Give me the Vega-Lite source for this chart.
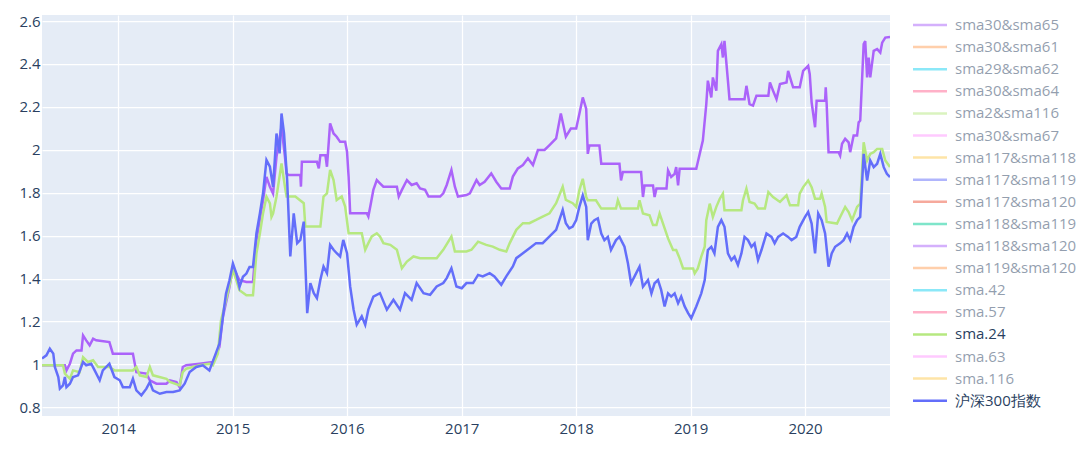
{
  "$schema": "https://vega.github.io/schema/vega-lite/v6.json",
  "autosize": "none",
  "width": 848,
  "height": 401,
  "padding": {"left": 42, "top": 15, "right": 190, "bottom": 40},
  "background": "white",
  "config": {
    "view": {"fill": "#E5ECF6", "stroke": null},
    "font": "Open Sans",
    "axis": {"labelFont": "Open Sans", "labelFontSize": 15, "labelColor": "#2a3f5f", "gridColor": "#ffffff", "gridWidth": 1.25, "domain": false, "ticks": false, "title": null}
  },
  "datasets": {
    "main": [
      {"s":"sma30&sma65","d":"2013-05-03","v":0.996},{"s":"sma30&sma65","d":"2013-07-15","v":0.996},{"s":"sma30&sma65","d":"2013-07-20","v":0.972},{"s":"sma30&sma65","d":"2013-07-31","v":1.003},{"s":"sma30&sma65","d":"2013-08-10","v":1.05},{"s":"sma30&sma65","d":"2013-08-21","v":1.065},{"s":"sma30&sma65","d":"2013-09-06","v":1.065},{"s":"sma30&sma65","d":"2013-09-11","v":1.135},{"s":"sma30&sma65","d":"2013-09-21","v":1.112},{"s":"sma30&sma65","d":"2013-10-02","v":1.089},{"s":"sma30&sma65","d":"2013-10-13","v":1.12},{"s":"sma30&sma65","d":"2013-10-23","v":1.112},{"s":"sma30&sma65","d":"2013-12-04","v":1.104},{"s":"sma30&sma65","d":"2013-12-15","v":1.05},{"s":"sma30&sma65","d":"2014-02-17","v":1.05},{"s":"sma30&sma65","d":"2014-02-28","v":0.964},{"s":"sma30&sma65","d":"2014-04-01","v":0.957},{"s":"sma30&sma65","d":"2014-04-12","v":0.926},{"s":"sma30&sma65","d":"2014-05-03","v":0.91},{"s":"sma30&sma65","d":"2014-06-04","v":0.91},{"s":"sma30&sma65","d":"2014-06-15","v":0.926},{"s":"sma30&sma65","d":"2014-07-06","v":0.918},{"s":"sma30&sma65","d":"2014-07-16","v":0.894},{"s":"sma30&sma65","d":"2014-07-26","v":0.988},{"s":"sma30&sma65","d":"2014-08-06","v":0.996},{"s":"sma30&sma65","d":"2014-09-18","v":1.003},{"s":"sma30&sma65","d":"2014-10-30","v":1.011},{"s":"sma30&sma65","d":"2014-11-20","v":1.081},{"s":"sma30&sma65","d":"2014-12-01","v":1.221},{"s":"sma30&sma65","d":"2014-12-22","v":1.361},{"s":"sma30&sma65","d":"2015-01-02","v":1.454},{"s":"sma30&sma65","d":"2015-01-23","v":1.392},{"s":"sma30&sma65","d":"2015-02-14","v":1.384},{"s":"sma30&sma65","d":"2015-03-07","v":1.384},{"s":"sma30&sma65","d":"2015-03-18","v":1.579},{"s":"sma30&sma65","d":"2015-04-08","v":1.765},{"s":"sma30&sma65","d":"2015-04-19","v":1.874},{"s":"sma30&sma65","d":"2015-04-30","v":1.827},{"s":"sma30&sma65","d":"2015-05-10","v":1.796},{"s":"sma30&sma65","d":"2015-05-21","v":1.967},{"s":"sma30&sma65","d":"2015-06-06","v":2.107},{"s":"sma30&sma65","d":"2015-06-17","v":1.967},{"s":"sma30&sma65","d":"2015-06-22","v":1.889},{"s":"sma30&sma65","d":"2015-06-29","v":1.882},{"s":"sma30&sma65","d":"2015-08-05","v":1.882},{"s":"sma30&sma65","d":"2015-08-07","v":1.828},{"s":"sma30&sma65","d":"2015-08-10","v":1.944},{"s":"sma30&sma65","d":"2015-09-27","v":1.944},{"s":"sma30&sma65","d":"2015-10-03","v":1.913},{"s":"sma30&sma65","d":"2015-10-08","v":1.975},{"s":"sma30&sma65","d":"2015-10-24","v":1.975},{"s":"sma30&sma65","d":"2015-10-29","v":1.921},{"s":"sma30&sma65","d":"2015-11-08","v":2.123},{"s":"sma30&sma65","d":"2015-11-19","v":2.076},{"s":"sma30&sma65","d":"2015-11-29","v":2.061},{"s":"sma30&sma65","d":"2015-12-10","v":2.037},{"s":"sma30&sma65","d":"2015-12-26","v":2.037},{"s":"sma30&sma65","d":"2016-01-01","v":1.991},{"s":"sma30&sma65","d":"2016-01-06","v":1.875},{"s":"sma30&sma65","d":"2016-01-11","v":1.704},{"s":"sma30&sma65","d":"2016-03-04","v":1.704},{"s":"sma30&sma65","d":"2016-03-09","v":1.689},{"s":"sma30&sma65","d":"2016-03-15","v":1.735},{"s":"sma30&sma65","d":"2016-03-25","v":1.813},{"s":"sma30&sma65","d":"2016-04-05","v":1.859},{"s":"sma30&sma65","d":"2016-04-15","v":1.844},{"s":"sma30&sma65","d":"2016-04-26","v":1.828},{"s":"sma30&sma65","d":"2016-06-08","v":1.828},{"s":"sma30&sma65","d":"2016-06-14","v":1.782},{"s":"sma30&sma65","d":"2016-06-24","v":1.813},{"s":"sma30&sma65","d":"2016-07-10","v":1.859},{"s":"sma30&sma65","d":"2016-07-25","v":1.836},{"s":"sma30&sma65","d":"2016-08-10","v":1.844},{"s":"sma30&sma65","d":"2016-08-21","v":1.82},{"s":"sma30&sma65","d":"2016-09-06","v":1.813},{"s":"sma30&sma65","d":"2016-09-17","v":1.782},{"s":"sma30&sma65","d":"2016-10-24","v":1.782},{"s":"sma30&sma65","d":"2016-11-03","v":1.797},{"s":"sma30&sma65","d":"2016-11-14","v":1.836},{"s":"sma30&sma65","d":"2016-11-29","v":1.906},{"s":"sma30&sma65","d":"2016-12-10","v":1.828},{"s":"sma30&sma65","d":"2016-12-20","v":1.782},{"s":"sma30&sma65","d":"2017-01-16","v":1.789},{"s":"sma30&sma65","d":"2017-01-27","v":1.797},{"s":"sma30&sma65","d":"2017-02-17","v":1.859},{"s":"sma30&sma65","d":"2017-02-27","v":1.836},{"s":"sma30&sma65","d":"2017-03-15","v":1.851},{"s":"sma30&sma65","d":"2017-04-05","v":1.89},{"s":"sma30&sma65","d":"2017-04-21","v":1.851},{"s":"sma30&sma65","d":"2017-05-07","v":1.82},{"s":"sma30&sma65","d":"2017-06-03","v":1.82},{"s":"sma30&sma65","d":"2017-06-13","v":1.875},{"s":"sma30&sma65","d":"2017-06-29","v":1.913},{"s":"sma30&sma65","d":"2017-07-15","v":1.929},{"s":"sma30&sma65","d":"2017-07-31","v":1.96},{"s":"sma30&sma65","d":"2017-08-16","v":1.929},{"s":"sma30&sma65","d":"2017-09-01","v":1.999},{"s":"sma30&sma65","d":"2017-09-22","v":1.999},{"s":"sma30&sma65","d":"2017-10-08","v":2.022},{"s":"sma30&sma65","d":"2017-10-29","v":2.053},{"s":"sma30&sma65","d":"2017-11-13","v":2.169},{"s":"sma30&sma65","d":"2017-11-29","v":2.061},{"s":"sma30&sma65","d":"2017-12-15","v":2.099},{"s":"sma30&sma65","d":"2018-01-01","v":2.099},{"s":"sma30&sma65","d":"2018-01-11","v":2.167},{"s":"sma30&sma65","d":"2018-01-22","v":2.244},{"s":"sma30&sma65","d":"2018-02-02","v":2.19},{"s":"sma30&sma65","d":"2018-02-07","v":1.981},{"s":"sma30&sma65","d":"2018-02-12","v":2.02},{"s":"sma30&sma65","d":"2018-03-16","v":2.02},{"s":"sma30&sma65","d":"2018-03-22","v":1.935},{"s":"sma30&sma65","d":"2018-05-19","v":1.935},{"s":"sma30&sma65","d":"2018-05-24","v":1.857},{"s":"sma30&sma65","d":"2018-05-30","v":1.896},{"s":"sma30&sma65","d":"2018-07-27","v":1.896},{"s":"sma30&sma65","d":"2018-08-02","v":1.78},{"s":"sma30&sma65","d":"2018-08-07","v":1.834},{"s":"sma30&sma65","d":"2018-09-03","v":1.834},{"s":"sma30&sma65","d":"2018-09-08","v":1.78},{"s":"sma30&sma65","d":"2018-09-14","v":1.819},{"s":"sma30&sma65","d":"2018-10-16","v":1.819},{"s":"sma30&sma65","d":"2018-10-21","v":1.904},{"s":"sma30&sma65","d":"2018-10-31","v":1.873},{"s":"sma30&sma65","d":"2018-11-11","v":1.888},{"s":"sma30&sma65","d":"2018-11-16","v":1.919},{"s":"sma30&sma65","d":"2018-11-22","v":1.834},{"s":"sma30&sma65","d":"2018-11-27","v":1.912},{"s":"sma30&sma65","d":"2019-01-19","v":1.912},{"s":"sma30&sma65","d":"2019-01-24","v":1.943},{"s":"sma30&sma65","d":"2019-01-30","v":1.981},{"s":"sma30&sma65","d":"2019-02-09","v":2.043},{"s":"sma30&sma65","d":"2019-02-20","v":2.213},{"s":"sma30&sma65","d":"2019-02-25","v":2.322},{"s":"sma30&sma65","d":"2019-03-08","v":2.244},{"s":"sma30&sma65","d":"2019-03-13","v":2.337},{"s":"sma30&sma65","d":"2019-03-24","v":2.275},{"s":"sma30&sma65","d":"2019-03-29","v":2.461},{"s":"sma30&sma65","d":"2019-04-09","v":2.492},{"s":"sma30&sma65","d":"2019-04-14","v":2.43},{"s":"sma30&sma65","d":"2019-04-19","v":2.507},{"s":"sma30&sma65","d":"2019-04-30","v":2.322},{"s":"sma30&sma65","d":"2019-05-05","v":2.236},{"s":"sma30&sma65","d":"2019-06-22","v":2.236},{"s":"sma30&sma65","d":"2019-06-28","v":2.298},{"s":"sma30&sma65","d":"2019-07-08","v":2.213},{"s":"sma30&sma65","d":"2019-07-19","v":2.206},{"s":"sma30&sma65","d":"2019-07-30","v":2.252},{"s":"sma30&sma65","d":"2019-09-06","v":2.252},{"s":"sma30&sma65","d":"2019-09-11","v":2.314},{"s":"sma30&sma65","d":"2019-09-21","v":2.275},{"s":"sma30&sma65","d":"2019-10-02","v":2.236},{"s":"sma30&sma65","d":"2019-10-13","v":2.306},{"s":"sma30&sma65","d":"2019-11-03","v":2.314},{"s":"sma30&sma65","d":"2019-11-08","v":2.368},{"s":"sma30&sma65","d":"2019-11-19","v":2.314},{"s":"sma30&sma65","d":"2019-11-24","v":2.291},{"s":"sma30&sma65","d":"2019-12-15","v":2.291},{"s":"sma30&sma65","d":"2019-12-26","v":2.368},{"s":"sma30&sma65","d":"2020-01-11","v":2.391},{"s":"sma30&sma65","d":"2020-01-16","v":2.352},{"s":"sma30&sma65","d":"2020-01-22","v":2.221},{"s":"sma30&sma65","d":"2020-02-02","v":2.105},{"s":"sma30&sma65","d":"2020-02-07","v":2.229},{"s":"sma30&sma65","d":"2020-03-05","v":2.229},{"s":"sma30&sma65","d":"2020-03-07","v":2.291},{"s":"sma30&sma65","d":"2020-03-10","v":2.213},{"s":"sma30&sma65","d":"2020-03-16","v":1.989},{"s":"sma30&sma65","d":"2020-04-17","v":1.989},{"s":"sma30&sma65","d":"2020-04-22","v":1.973},{"s":"sma30&sma65","d":"2020-04-28","v":2.028},{"s":"sma30&sma65","d":"2020-05-08","v":2.051},{"s":"sma30&sma65","d":"2020-05-19","v":2.035},{"s":"sma30&sma65","d":"2020-05-24","v":1.989},{"s":"sma30&sma65","d":"2020-06-04","v":2.066},{"s":"sma30&sma65","d":"2020-06-15","v":2.066},{"s":"sma30&sma65","d":"2020-06-20","v":2.128},{"s":"sma30&sma65","d":"2020-06-25","v":2.136},{"s":"sma30&sma65","d":"2020-07-06","v":2.492},{"s":"sma30&sma65","d":"2020-07-11","v":2.507},{"s":"sma30&sma65","d":"2020-07-17","v":2.337},{"s":"sma30&sma65","d":"2020-07-22","v":2.43},{"s":"sma30&sma65","d":"2020-07-27","v":2.337},{"s":"sma30&sma65","d":"2020-08-07","v":2.461},{"s":"sma30&sma65","d":"2020-08-18","v":2.469},{"s":"sma30&sma65","d":"2020-08-28","v":2.453},{"s":"sma30&sma65","d":"2020-09-03","v":2.499},{"s":"sma30&sma65","d":"2020-09-13","v":2.523},{"s":"sma30&sma65","d":"2020-09-28","v":2.526},

      {"s":"sma.24","d":"2013-05-03","v":0.996},{"s":"sma.24","d":"2013-07-09","v":0.996},{"s":"sma.24","d":"2013-07-15","v":0.957},{"s":"sma.24","d":"2013-07-31","v":0.933},{"s":"sma.24","d":"2013-08-10","v":0.972},{"s":"sma.24","d":"2013-08-31","v":0.964},{"s":"sma.24","d":"2013-09-11","v":1.034},{"s":"sma.24","d":"2013-09-27","v":1.011},{"s":"sma.24","d":"2013-10-13","v":1.019},{"s":"sma.24","d":"2013-10-29","v":0.988},{"s":"sma.24","d":"2013-12-04","v":0.988},{"s":"sma.24","d":"2013-12-20","v":0.972},{"s":"sma.24","d":"2014-02-17","v":0.972},{"s":"sma.24","d":"2014-02-28","v":0.988},{"s":"sma.24","d":"2014-03-11","v":0.949},{"s":"sma.24","d":"2014-04-01","v":0.941},{"s":"sma.24","d":"2014-04-12","v":0.988},{"s":"sma.24","d":"2014-04-22","v":0.949},{"s":"sma.24","d":"2014-06-04","v":0.933},{"s":"sma.24","d":"2014-06-15","v":0.918},{"s":"sma.24","d":"2014-07-16","v":0.902},{"s":"sma.24","d":"2014-07-26","v":0.964},{"s":"sma.24","d":"2014-08-06","v":0.98},{"s":"sma.24","d":"2014-08-27","v":0.988},{"s":"sma.24","d":"2014-09-18","v":0.996},{"s":"sma.24","d":"2014-10-19","v":1.003},{"s":"sma.24","d":"2014-10-30","v":0.996},{"s":"sma.24","d":"2014-11-15","v":1.05},{"s":"sma.24","d":"2014-11-25","v":1.205},{"s":"sma.24","d":"2014-12-11","v":1.299},{"s":"sma.24","d":"2015-01-02","v":1.439},{"s":"sma.24","d":"2015-01-13","v":1.392},{"s":"sma.24","d":"2015-01-23","v":1.345},{"s":"sma.24","d":"2015-02-14","v":1.322},{"s":"sma.24","d":"2015-03-07","v":1.322},{"s":"sma.24","d":"2015-03-18","v":1.516},{"s":"sma.24","d":"2015-03-29","v":1.61},{"s":"sma.24","d":"2015-04-08","v":1.703},{"s":"sma.24","d":"2015-04-19","v":1.781},{"s":"sma.24","d":"2015-04-30","v":1.75},{"s":"sma.24","d":"2015-05-05","v":1.687},{"s":"sma.24","d":"2015-05-10","v":1.703},{"s":"sma.24","d":"2015-05-21","v":1.781},{"s":"sma.24","d":"2015-06-06","v":1.936},{"s":"sma.24","d":"2015-06-17","v":1.827},{"s":"sma.24","d":"2015-06-22","v":1.782},{"s":"sma.24","d":"2015-07-20","v":1.782},{"s":"sma.24","d":"2015-08-16","v":1.751},{"s":"sma.24","d":"2015-08-21","v":1.642},{"s":"sma.24","d":"2015-10-08","v":1.642},{"s":"sma.24","d":"2015-10-18","v":1.782},{"s":"sma.24","d":"2015-10-29","v":1.797},{"s":"sma.24","d":"2015-11-08","v":1.906},{"s":"sma.24","d":"2015-11-19","v":1.859},{"s":"sma.24","d":"2015-11-29","v":1.766},{"s":"sma.24","d":"2015-12-15","v":1.782},{"s":"sma.24","d":"2015-12-26","v":1.735},{"s":"sma.24","d":"2016-01-06","v":1.611},{"s":"sma.24","d":"2016-02-17","v":1.611},{"s":"sma.24","d":"2016-02-28","v":1.534},{"s":"sma.24","d":"2016-03-09","v":1.565},{"s":"sma.24","d":"2016-03-20","v":1.596},{"s":"sma.24","d":"2016-04-05","v":1.611},{"s":"sma.24","d":"2016-04-15","v":1.596},{"s":"sma.24","d":"2016-04-26","v":1.565},{"s":"sma.24","d":"2016-05-18","v":1.557},{"s":"sma.24","d":"2016-06-08","v":1.534},{"s":"sma.24","d":"2016-06-24","v":1.448},{"s":"sma.24","d":"2016-07-10","v":1.479},{"s":"sma.24","d":"2016-07-31","v":1.503},{"s":"sma.24","d":"2016-08-21","v":1.495},{"s":"sma.24","d":"2016-10-13","v":1.495},{"s":"sma.24","d":"2016-11-03","v":1.534},{"s":"sma.24","d":"2016-11-29","v":1.596},{"s":"sma.24","d":"2016-12-10","v":1.526},{"s":"sma.24","d":"2017-01-16","v":1.526},{"s":"sma.24","d":"2017-02-01","v":1.534},{"s":"sma.24","d":"2017-02-22","v":1.572},{"s":"sma.24","d":"2017-03-20","v":1.557},{"s":"sma.24","d":"2017-04-10","v":1.549},{"s":"sma.24","d":"2017-05-02","v":1.534},{"s":"sma.24","d":"2017-05-23","v":1.526},{"s":"sma.24","d":"2017-06-03","v":1.565},{"s":"sma.24","d":"2017-06-24","v":1.627},{"s":"sma.24","d":"2017-07-15","v":1.658},{"s":"sma.24","d":"2017-08-05","v":1.658},{"s":"sma.24","d":"2017-08-26","v":1.673},{"s":"sma.24","d":"2017-09-16","v":1.689},{"s":"sma.24","d":"2017-10-08","v":1.704},{"s":"sma.24","d":"2017-10-29","v":1.751},{"s":"sma.24","d":"2017-11-19","v":1.828},{"s":"sma.24","d":"2017-11-29","v":1.766},{"s":"sma.24","d":"2017-12-21","v":1.751},{"s":"sma.24","d":"2018-01-01","v":1.734},{"s":"sma.24","d":"2018-01-11","v":1.811},{"s":"sma.24","d":"2018-01-22","v":1.865},{"s":"sma.24","d":"2018-02-02","v":1.78},{"s":"sma.24","d":"2018-02-07","v":1.765},{"s":"sma.24","d":"2018-03-05","v":1.765},{"s":"sma.24","d":"2018-03-22","v":1.726},{"s":"sma.24","d":"2018-05-08","v":1.726},{"s":"sma.24","d":"2018-05-14","v":1.765},{"s":"sma.24","d":"2018-05-24","v":1.726},{"s":"sma.24","d":"2018-07-17","v":1.726},{"s":"sma.24","d":"2018-07-22","v":1.765},{"s":"sma.24","d":"2018-08-02","v":1.703},{"s":"sma.24","d":"2018-08-23","v":1.695},{"s":"sma.24","d":"2018-09-03","v":1.649},{"s":"sma.24","d":"2018-09-14","v":1.649},{"s":"sma.24","d":"2018-09-24","v":1.703},{"s":"sma.24","d":"2018-10-05","v":1.656},{"s":"sma.24","d":"2018-10-21","v":1.587},{"s":"sma.24","d":"2018-11-06","v":1.533},{"s":"sma.24","d":"2018-11-16","v":1.533},{"s":"sma.24","d":"2018-11-27","v":1.494},{"s":"sma.24","d":"2018-12-08","v":1.447},{"s":"sma.24","d":"2019-01-09","v":1.447},{"s":"sma.24","d":"2019-01-14","v":1.424},{"s":"sma.24","d":"2019-01-24","v":1.447},{"s":"sma.24","d":"2019-02-04","v":1.502},{"s":"sma.24","d":"2019-02-15","v":1.548},{"s":"sma.24","d":"2019-02-20","v":1.672},{"s":"sma.24","d":"2019-03-03","v":1.749},{"s":"sma.24","d":"2019-03-13","v":1.687},{"s":"sma.24","d":"2019-03-24","v":1.734},{"s":"sma.24","d":"2019-04-04","v":1.772},{"s":"sma.24","d":"2019-04-14","v":1.796},{"s":"sma.24","d":"2019-04-19","v":1.718},{"s":"sma.24","d":"2019-06-12","v":1.718},{"s":"sma.24","d":"2019-06-17","v":1.765},{"s":"sma.24","d":"2019-06-28","v":1.819},{"s":"sma.24","d":"2019-07-08","v":1.757},{"s":"sma.24","d":"2019-07-24","v":1.749},{"s":"sma.24","d":"2019-08-04","v":1.726},{"s":"sma.24","d":"2019-08-26","v":1.726},{"s":"sma.24","d":"2019-09-06","v":1.803},{"s":"sma.24","d":"2019-09-21","v":1.78},{"s":"sma.24","d":"2019-10-13","v":1.757},{"s":"sma.24","d":"2019-11-03","v":1.788},{"s":"sma.24","d":"2019-11-14","v":1.741},{"s":"sma.24","d":"2019-12-10","v":1.741},{"s":"sma.24","d":"2019-12-15","v":1.796},{"s":"sma.24","d":"2019-12-26","v":1.826},{"s":"sma.24","d":"2020-01-11","v":1.857},{"s":"sma.24","d":"2020-01-22","v":1.826},{"s":"sma.24","d":"2020-02-02","v":1.772},{"s":"sma.24","d":"2020-02-18","v":1.772},{"s":"sma.24","d":"2020-02-23","v":1.796},{"s":"sma.24","d":"2020-03-05","v":1.734},{"s":"sma.24","d":"2020-03-10","v":1.664},{"s":"sma.24","d":"2020-04-12","v":1.656},{"s":"sma.24","d":"2020-04-22","v":1.687},{"s":"sma.24","d":"2020-05-08","v":1.734},{"s":"sma.24","d":"2020-05-19","v":1.71},{"s":"sma.24","d":"2020-05-30","v":1.672},{"s":"sma.24","d":"2020-06-15","v":1.734},{"s":"sma.24","d":"2020-06-25","v":1.749},{"s":"sma.24","d":"2020-07-06","v":2.035},{"s":"sma.24","d":"2020-07-17","v":1.95},{"s":"sma.24","d":"2020-07-27","v":1.981},{"s":"sma.24","d":"2020-08-07","v":1.989},{"s":"sma.24","d":"2020-08-18","v":2.004},{"s":"sma.24","d":"2020-09-03","v":2.004},{"s":"sma.24","d":"2020-09-13","v":1.95},{"s":"sma.24","d":"2020-09-28","v":1.92},

      {"s":"沪深300指数","d":"2013-05-03","v":1.027},{"s":"沪深300指数","d":"2013-05-17","v":1.042},{"s":"沪深300指数","d":"2013-05-28","v":1.073},{"s":"沪深300指数","d":"2013-06-08","v":1.05},{"s":"沪深300指数","d":"2013-06-13","v":0.988},{"s":"沪深300指数","d":"2013-06-24","v":0.941},{"s":"沪深300指数","d":"2013-06-29","v":0.887},{"s":"沪深300指数","d":"2013-07-09","v":0.902},{"s":"沪深300指数","d":"2013-07-15","v":0.941},{"s":"沪深300指数","d":"2013-07-20","v":0.894},{"s":"沪深300指数","d":"2013-07-31","v":0.91},{"s":"沪深300指数","d":"2013-08-10","v":0.941},{"s":"沪深300指数","d":"2013-08-26","v":0.949},{"s":"沪深300指数","d":"2013-09-11","v":1.011},{"s":"沪深300指数","d":"2013-09-21","v":0.996},{"s":"沪深300指数","d":"2013-10-07","v":1.003},{"s":"沪深300指数","d":"2013-10-18","v":0.972},{"s":"沪深300指数","d":"2013-11-03","v":0.926},{"s":"沪深300指数","d":"2013-11-13","v":0.972},{"s":"沪深300指数","d":"2013-11-24","v":0.988},{"s":"沪深300指数","d":"2013-12-04","v":1.003},{"s":"沪深300指数","d":"2013-12-20","v":0.941},{"s":"沪深300指数","d":"2014-01-06","v":0.926},{"s":"沪深300指数","d":"2014-01-16","v":0.894},{"s":"沪深300指数","d":"2014-02-07","v":0.894},{"s":"沪深300指数","d":"2014-02-17","v":0.933},{"s":"沪深300指数","d":"2014-02-28","v":0.879},{"s":"沪深300指数","d":"2014-03-16","v":0.856},{"s":"沪深300指数","d":"2014-04-01","v":0.887},{"s":"沪深300指数","d":"2014-04-12","v":0.918},{"s":"沪深300指数","d":"2014-04-22","v":0.879},{"s":"沪深300指数","d":"2014-05-14","v":0.863},{"s":"沪深300指数","d":"2014-06-04","v":0.871},{"s":"沪深300指数","d":"2014-06-25","v":0.871},{"s":"沪深300指数","d":"2014-07-16","v":0.879},{"s":"沪深300指数","d":"2014-08-01","v":0.91},{"s":"沪深300指数","d":"2014-08-17","v":0.964},{"s":"沪深300指数","d":"2014-09-07","v":0.988},{"s":"沪深300指数","d":"2014-09-28","v":0.996},{"s":"沪深300指数","d":"2014-10-19","v":0.972},{"s":"沪深300指数","d":"2014-11-04","v":1.034},{"s":"沪深300指数","d":"2014-11-20","v":1.097},{"s":"沪深300指数","d":"2014-12-01","v":1.221},{"s":"沪深300指数","d":"2014-12-11","v":1.33},{"s":"沪深300指数","d":"2014-12-22","v":1.392},{"s":"沪深300指数","d":"2015-01-02","v":1.47},{"s":"沪深300指数","d":"2015-01-13","v":1.423},{"s":"沪深300指数","d":"2015-01-23","v":1.361},{"s":"沪深300指数","d":"2015-02-03","v":1.408},{"s":"沪深300指数","d":"2015-02-14","v":1.423},{"s":"沪深300指数","d":"2015-02-24","v":1.454},{"s":"沪深300指数","d":"2015-03-07","v":1.454},{"s":"沪深300指数","d":"2015-03-18","v":1.61},{"s":"沪深300指数","d":"2015-03-29","v":1.703},{"s":"沪深300指数","d":"2015-04-08","v":1.796},{"s":"沪深300指数","d":"2015-04-19","v":1.952},{"s":"沪深300指数","d":"2015-04-30","v":1.921},{"s":"沪深300指数","d":"2015-05-10","v":1.827},{"s":"沪深300指数","d":"2015-05-21","v":2.076},{"s":"沪深300指数","d":"2015-05-31","v":1.983},{"s":"沪深300指数","d":"2015-06-06","v":2.169},{"s":"沪深300指数","d":"2015-06-14","v":2.076},{"s":"沪深300指数","d":"2015-06-24","v":1.859},{"s":"沪深300指数","d":"2015-07-04","v":1.503},{"s":"沪深300指数","d":"2015-07-15","v":1.704},{"s":"沪深300指数","d":"2015-07-26","v":1.565},{"s":"沪深300指数","d":"2015-08-05","v":1.58},{"s":"沪深300指数","d":"2015-08-16","v":1.665},{"s":"沪深300指数","d":"2015-08-27","v":1.239},{"s":"沪深300指数","d":"2015-09-06","v":1.379},{"s":"沪深300指数","d":"2015-09-17","v":1.332},{"s":"沪深300指数","d":"2015-09-27","v":1.309},{"s":"沪深300指数","d":"2015-10-08","v":1.394},{"s":"沪深300指数","d":"2015-10-18","v":1.456},{"s":"沪深300指数","d":"2015-10-29","v":1.425},{"s":"沪深300指数","d":"2015-11-08","v":1.557},{"s":"沪深300指数","d":"2015-11-19","v":1.534},{"s":"沪深300指数","d":"2015-11-29","v":1.518},{"s":"沪深300指数","d":"2015-12-10","v":1.503},{"s":"沪深300指数","d":"2015-12-20","v":1.58},{"s":"沪深300指数","d":"2016-01-01","v":1.518},{"s":"沪深300指数","d":"2016-01-11","v":1.363},{"s":"沪深300指数","d":"2016-01-22","v":1.255},{"s":"沪深300指数","d":"2016-02-01","v":1.185},{"s":"沪深300指数","d":"2016-02-17","v":1.224},{"s":"沪深300指数","d":"2016-02-28","v":1.185},{"s":"沪深300指数","d":"2016-03-09","v":1.255},{"s":"沪深300指数","d":"2016-03-25","v":1.316},{"s":"沪深300指数","d":"2016-04-15","v":1.332},{"s":"沪深300指数","d":"2016-05-07","v":1.255},{"s":"沪深300指数","d":"2016-05-28","v":1.301},{"s":"沪深300指数","d":"2016-06-18","v":1.255},{"s":"沪深300指数","d":"2016-07-04","v":1.332},{"s":"沪深300指数","d":"2016-07-25","v":1.301},{"s":"沪深300指数","d":"2016-08-10","v":1.379},{"s":"沪深300指数","d":"2016-09-01","v":1.332},{"s":"沪深300指数","d":"2016-09-22","v":1.324},{"s":"沪深300指数","d":"2016-10-13","v":1.363},{"s":"沪深300指数","d":"2016-11-03","v":1.379},{"s":"沪深300指数","d":"2016-11-14","v":1.402},{"s":"沪深300指数","d":"2016-11-29","v":1.448},{"s":"沪深300指数","d":"2016-12-15","v":1.363},{"s":"沪深300指数","d":"2017-01-01","v":1.355},{"s":"沪深300指数","d":"2017-01-16","v":1.379},{"s":"沪深300指数","d":"2017-02-06","v":1.379},{"s":"沪深300指数","d":"2017-02-22","v":1.417},{"s":"沪深300指数","d":"2017-03-09","v":1.41},{"s":"沪深300指数","d":"2017-03-31","v":1.425},{"s":"沪深300指数","d":"2017-04-15","v":1.41},{"s":"沪深300指数","d":"2017-05-07","v":1.371},{"s":"沪深300指数","d":"2017-05-23","v":1.41},{"s":"沪深300指数","d":"2017-06-13","v":1.456},{"s":"沪深300指数","d":"2017-06-24","v":1.495},{"s":"沪深300指数","d":"2017-07-15","v":1.518},{"s":"沪深300指数","d":"2017-08-05","v":1.541},{"s":"沪深300指数","d":"2017-08-26","v":1.565},{"s":"沪深300指数","d":"2017-09-16","v":1.565},{"s":"沪深300指数","d":"2017-10-08","v":1.596},{"s":"沪深300指数","d":"2017-10-29","v":1.627},{"s":"沪深300指数","d":"2017-11-19","v":1.72},{"s":"沪深300指数","d":"2017-11-29","v":1.658},{"s":"沪深300指数","d":"2017-12-10","v":1.634},{"s":"沪深300指数","d":"2017-12-21","v":1.642},{"s":"沪深300指数","d":"2018-01-01","v":1.672},{"s":"沪深300指数","d":"2018-01-11","v":1.734},{"s":"沪深300指数","d":"2018-01-22","v":1.788},{"s":"沪深300指数","d":"2018-02-02","v":1.734},{"s":"沪深300指数","d":"2018-02-07","v":1.579},{"s":"沪深300指数","d":"2018-02-18","v":1.656},{"s":"沪深300指数","d":"2018-02-28","v":1.672},{"s":"沪深300指数","d":"2018-03-11","v":1.68},{"s":"沪深300指数","d":"2018-03-22","v":1.61},{"s":"沪深300指数","d":"2018-04-01","v":1.579},{"s":"沪深300指数","d":"2018-04-12","v":1.594},{"s":"沪深300指数","d":"2018-04-22","v":1.533},{"s":"沪深300指数","d":"2018-05-08","v":1.579},{"s":"沪深300指数","d":"2018-05-19","v":1.594},{"s":"沪深300指数","d":"2018-06-04","v":1.548},{"s":"沪深300指数","d":"2018-06-15","v":1.471},{"s":"沪深300指数","d":"2018-06-25","v":1.378},{"s":"沪深300指数","d":"2018-07-11","v":1.424},{"s":"沪深300指数","d":"2018-07-22","v":1.455},{"s":"沪深300指数","d":"2018-08-02","v":1.362},{"s":"沪深300指数","d":"2018-08-18","v":1.393},{"s":"沪深300指数","d":"2018-08-29","v":1.331},{"s":"沪深300指数","d":"2018-09-08","v":1.378},{"s":"沪深300指数","d":"2018-09-19","v":1.393},{"s":"沪深300指数","d":"2018-09-29","v":1.347},{"s":"沪深300指数","d":"2018-10-10","v":1.27},{"s":"沪深300指数","d":"2018-10-21","v":1.331},{"s":"沪深300指数","d":"2018-10-31","v":1.316},{"s":"沪深300指数","d":"2018-11-11","v":1.331},{"s":"沪深300指数","d":"2018-11-22","v":1.285},{"s":"沪深300指数","d":"2018-12-02","v":1.316},{"s":"沪深300指数","d":"2018-12-13","v":1.27},{"s":"沪深300指数","d":"2018-12-24","v":1.239},{"s":"沪深300指数","d":"2019-01-03","v":1.215},{"s":"沪深300指数","d":"2019-01-19","v":1.27},{"s":"沪深300指数","d":"2019-02-04","v":1.331},{"s":"沪深300指数","d":"2019-02-15","v":1.393},{"s":"沪深300指数","d":"2019-02-25","v":1.533},{"s":"沪深300指数","d":"2019-03-08","v":1.548},{"s":"沪深300指数","d":"2019-03-18","v":1.517},{"s":"沪深300指数","d":"2019-03-29","v":1.641},{"s":"沪深300指数","d":"2019-04-09","v":1.672},{"s":"沪深300指数","d":"2019-04-19","v":1.641},{"s":"沪深300指数","d":"2019-04-30","v":1.517},{"s":"沪深300指数","d":"2019-05-11","v":1.486},{"s":"沪深300指数","d":"2019-05-21","v":1.502},{"s":"沪深300指数","d":"2019-06-01","v":1.463},{"s":"沪深300指数","d":"2019-06-12","v":1.517},{"s":"沪深300指数","d":"2019-06-22","v":1.594},{"s":"沪深300指数","d":"2019-07-03","v":1.579},{"s":"沪深300指数","d":"2019-07-14","v":1.548},{"s":"沪深300指数","d":"2019-07-24","v":1.564},{"s":"沪深300指数","d":"2019-08-04","v":1.486},{"s":"沪深300指数","d":"2019-08-15","v":1.533},{"s":"沪深300指数","d":"2019-08-31","v":1.61},{"s":"沪深300指数","d":"2019-09-16","v":1.594},{"s":"沪深300指数","d":"2019-09-26","v":1.564},{"s":"沪深300指数","d":"2019-10-07","v":1.594},{"s":"沪深300指数","d":"2019-10-23","v":1.61},{"s":"沪深300指数","d":"2019-11-08","v":1.594},{"s":"沪深300指数","d":"2019-11-19","v":1.579},{"s":"沪深300指数","d":"2019-12-04","v":1.594},{"s":"沪深300指数","d":"2019-12-15","v":1.641},{"s":"沪深300指数","d":"2020-01-01","v":1.687},{"s":"沪深300指数","d":"2020-01-11","v":1.71},{"s":"沪深300指数","d":"2020-01-22","v":1.656},{"s":"沪深300指数","d":"2020-02-02","v":1.517},{"s":"沪深300指数","d":"2020-02-12","v":1.703},{"s":"沪深300指数","d":"2020-02-23","v":1.672},{"s":"沪深300指数","d":"2020-03-05","v":1.61},{"s":"沪深300指数","d":"2020-03-16","v":1.455},{"s":"沪深300指数","d":"2020-03-26","v":1.517},{"s":"沪深300指数","d":"2020-04-06","v":1.548},{"s":"沪深300指数","d":"2020-04-22","v":1.564},{"s":"沪深300指数","d":"2020-05-03","v":1.579},{"s":"沪深300指数","d":"2020-05-14","v":1.61},{"s":"沪深300指数","d":"2020-05-24","v":1.579},{"s":"沪深300指数","d":"2020-06-04","v":1.641},{"s":"沪深300指数","d":"2020-06-15","v":1.672},{"s":"沪深300指数","d":"2020-06-25","v":1.687},{"s":"沪深300指数","d":"2020-07-06","v":1.981},{"s":"沪深300指数","d":"2020-07-17","v":1.857},{"s":"沪深300指数","d":"2020-07-27","v":1.95},{"s":"沪深300指数","d":"2020-08-07","v":1.919},{"s":"沪深300指数","d":"2020-08-18","v":1.935},{"s":"沪深300指数","d":"2020-08-28","v":1.981},{"s":"沪深300指数","d":"2020-09-08","v":1.919},{"s":"沪深300指数","d":"2020-09-18","v":1.888},{"s":"沪深300指数","d":"2020-09-28","v":1.873}
    ]
  },
  "data": {"name": "main", "format": {"parse": {"d": "utc:'%Y-%m-%d'"}}},
  "encoding": {
    "x": {"field": "d", "type": "temporal", "scale": {"type": "utc", "domain": [{"year": 2013, "month": 5, "date": 3, "utc": true}, {"year": 2020, "month": 9, "date": 28, "utc": true}]}, "axis": {"format": "%Y", "formatType": "utc", "tickCount": {"interval": "year", "step": 1}, "labelPadding": 5, "grid": true}},
    "y": {"field": "v", "type": "quantitative", "scale": {"domain": [0.7595, 2.628], "nice": false, "zero": false}, "axis": {"values": [0.8, 1, 1.2, 1.4, 1.6, 1.8, 2, 2.2, 2.4, 2.6], "format": "~f", "labelPadding": 2, "grid": true}},
    "color": {"field": "s", "type": "nominal",
      "scale": {"domain": ["sma30&sma65","sma30&sma61","sma29&sma62","sma30&sma64","sma2&sma116","sma30&sma67","sma117&sma118","sma117&sma119","sma117&sma120","sma118&sma119","sma118&sma120","sma119&sma120","sma.42","sma.57","sma.24","sma.63","sma.116","沪深300指数"],
        "range": ["#AB63FA","#FFA15A","#19D3F3","#FF6692","#B6E880","#FF97FF","#FECB52","#636EFA","#EF553B","#00CC96","#AB63FA","#FFA15A","#19D3F3","#FF6692","#B6E880","#FF97FF","#FECB52","#636EFA"]},
      "legend": {"title": null, "orient": "none", "legendX": 878, "legendY": 0, "padding": 0, "symbolType": "M-2,0H2", "symbolSize": 289, "symbolStrokeWidth": 2.5, "labelFont": "Open Sans", "labelFontSize": 15, "labelColor": "#2a3f5f", "labelLimit": 300, "labelOffset": 15, "rowPadding": 4.1,
        "encode": {
          "symbols": {"update": {"opacity": {"signal": "datum.value === 'sma.24' || datum.value === '沪深300指数' ? 1 : 0.5"}}},
          "labels": {"update": {"opacity": {"signal": "datum.value === 'sma.24' || datum.value === '沪深300指数' ? 1 : 0.5"}}}
        }}}
  },
  "layer": [
    {"transform": [{"filter": "datum.s === 'sma30&sma65'"}], "mark": {"type": "line", "strokeWidth": 2.5, "clip": true}},
    {"transform": [{"filter": "datum.s === 'sma.24'"}], "mark": {"type": "line", "strokeWidth": 2.5, "clip": true}},
    {"transform": [{"filter": "datum.s === '沪深300指数'"}], "mark": {"type": "line", "strokeWidth": 2.5, "clip": true}}
  ]
}
